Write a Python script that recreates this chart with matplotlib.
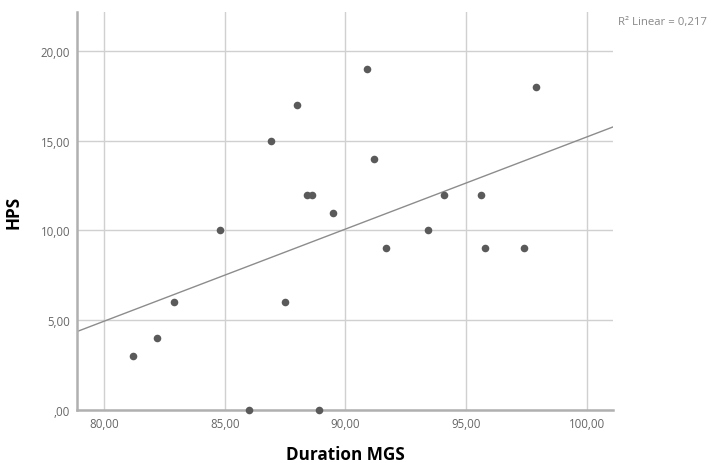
import matplotlib
matplotlib.use("Agg")
import matplotlib.pyplot as plt
import numpy as np
from matplotlib.ticker import FuncFormatter

# values
duration_mgs = [81.2, 82.2, 82.9, 84.8, 86.0, 86.9, 87.5, 88.0, 88.4, 88.6,
                88.9, 89.5, 90.9, 91.2, 91.7, 93.4, 94.1, 95.6, 95.8, 97.4, 97.9]
hps = [3, 4, 6, 10, 0, 15, 6, 17, 12, 12,
       0, 11, 19, 14, 9, 10, 12, 12, 9, 9, 18]

x_ticks = [80, 85, 90, 95, 100]
y_ticks = [0, 5, 10, 15, 20]

plt.rcParams['font.family'] = ['Open Sans', 'DejaVu Sans']

fig = plt.figure(figsize=(7.12, 4.64), dpi=100)
ax = fig.add_axes([0.1081, 0.1142, 0.7528, 0.8578])

x = np.array(duration_mgs)
y = np.array(hps)
slope, intercept = np.polyfit(x, y, 1)
r2 = np.corrcoef(x, y)[0, 1] ** 2

ax.set_xlim(78.88, 101.08)
ax.set_ylim(0, 22.17)

ax.scatter(x, y, s=30, color="#5a5a5a", zorder=3, clip_on=False, linewidths=0)

xl = np.array(ax.get_xlim())
ax.plot(xl, slope * xl + intercept, color="#8c8c8c", lw=1.0, zorder=2)

ax.set_xticks(x_ticks)
ax.set_yticks(y_ticks)

def comma_fmt(v, pos):
    s = "%.2f" % v
    s = s.replace(".", ",")
    if s.startswith("0,"):
        s = s[1:]
    return s

ax.xaxis.set_major_formatter(FuncFormatter(comma_fmt))
ax.yaxis.set_major_formatter(FuncFormatter(comma_fmt))
ax.tick_params(length=0, labelsize=8.3, labelcolor="#666666", pad=5)

ax.grid(True, color="#d0d0d0", lw=1.0)
ax.set_axisbelow(True)
for s in ["top", "right"]:
    ax.spines[s].set_visible(False)
for s in ["left", "bottom"]:
    ax.spines[s].set_color("#b0b0b0")
    ax.spines[s].set_linewidth(1.8)

ax.set_xlabel("Duration MGS", fontsize=12.3, fontweight="bold", labelpad=11)
ax.set_ylabel("HPS", fontsize=12.3, fontweight="bold", labelpad=13)

fig.text(0.868, 0.952, "R\u00b2 Linear = %s" % ("%.3f" % r2).replace(".", ","),
         fontsize=8.2, color="#888888", ha="left", va="center")

fig.savefig("out.png", dpi=100)
